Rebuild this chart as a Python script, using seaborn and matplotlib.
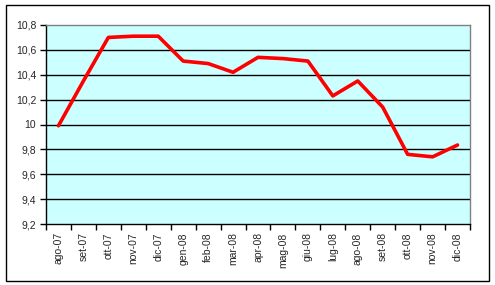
import matplotlib
matplotlib.use("Agg")
import matplotlib.pyplot as plt
import matplotlib.patches as mpatches
import matplotlib.ticker as mticker
import seaborn as sns
import pandas as pd

months = ["ago-07", "set-07", "ott-07", "nov-07", "dic-07", "gen-08", "feb-08",
          "mar-08", "apr-08", "mag-08", "giu-08", "lug-08", "ago-08", "set-08",
          "ott-08", "nov-08", "dic-08"]
values = [9.99, 10.35, 10.70, 10.71, 10.71, 10.51, 10.49, 10.42, 10.54, 10.53,
          10.51, 10.23, 10.35, 10.14, 9.76, 9.74, 9.835]
yticks = [9.2, 9.4, 9.6, 9.8, 10.0, 10.2, 10.4, 10.6, 10.8]

df = pd.DataFrame({"pos": range(len(months)), "value": values})

sns.set_style("white")
plt.rcParams["font.family"] = ["Liberation Sans", "DejaVu Sans"]

W, H = 495, 285
fig = plt.figure(figsize=(W / 100, H / 100), dpi=100)
fig.patch.set_facecolor("white")
fig.patches.append(mpatches.Rectangle((6 / W, 1 - 281 / H), 483 / W, 276 / H,
                                      transform=fig.transFigure, fill=False,
                                      edgecolor="black", linewidth=1))

ax = fig.add_axes([46 / W, 1 - 224 / H, 424 / W, 199 / H])
ax.set_facecolor("#CCFFFF")

for v in yticks[1:-1]:
    ax.axhline(v, color="black", linewidth=1, zorder=1)

sns.lineplot(data=df, x="pos", y="value", ax=ax, color="#FF0000",
             linewidth=2.6, zorder=3)

ax.set_xlim(-0.5, len(months) - 0.5)
ax.set_ylim(9.2, 10.8)
ax.set_yticks(yticks)
ax.yaxis.set_major_formatter(mticker.FuncFormatter(
    lambda v, p: ("%g" % round(v, 1)).replace(".", ",")))

ax.set_xticks([i - 0.5 for i in range(len(months) + 1)])
ax.set_xticklabels([])
ax.set_xticks(list(range(len(months))), minor=True)
ax.set_xticklabels(months, minor=True, rotation=90, fontsize=7.5)
ax.tick_params(axis="x", which="minor", length=0, pad=6)
ax.tick_params(axis="x", which="major", length=4, width=1, color="black",
               direction="out", bottom=True)
ax.tick_params(axis="y", length=4, width=1, color="black", direction="out",
               left=True, labelsize=7.5, pad=3)

ax.set_xlabel("")
ax.set_ylabel("")
for side in ["top", "right"]:
    ax.spines[side].set_color("#808080")
    ax.spines[side].set_linewidth(1)
for side in ["left", "bottom"]:
    ax.spines[side].set_color("black")
    ax.spines[side].set_linewidth(1)

fig.savefig("out.png", dpi=100)
